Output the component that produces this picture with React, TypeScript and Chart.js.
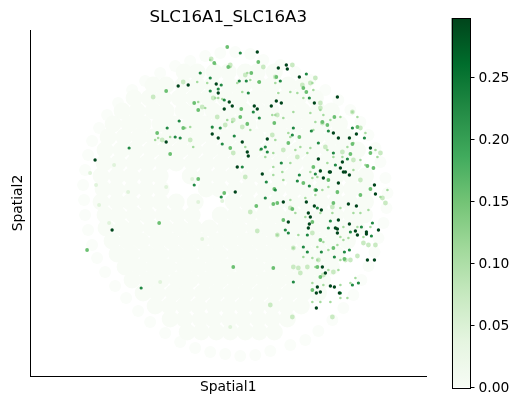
import React, { useEffect, useRef } from "react";
import { Chart, registerables } from "chart.js";

Chart.register(...registerables);

const titleText = "SLC16A1_SLC16A3";
const xLabel = "Spatial1";
const yLabel = "Spatial2";
const colorbarMax = 0.2976;
const colorStops = ["#f7fcf5", "#e5f5e0", "#c7e9c0", "#a1d99b", "#74c476", "#41ab5d", "#238b45", "#006d2c", "#00441b"];

const darkestSpots = [
  [178,86],[188,85],[257,52],[218,93],[216,84],[229,102],[224,109],[232,106],[254,106],[257,109],[276,101],[271,106],[278,68],[212,134],[218,138],[242,142],[247,152],[248,156],[166,142],[237,167],[267,139],
  [286,65],[287,69],[299,77],[281,103],[337,97],[333,133],[338,138],[349,138],[356,134],[370,148],[342,162],[340,168],[345,172],[349,175],[318,159],[323,178],[330,172],[314,103],
  [262,174],[374,185],[375,194],[283,202],[288,222],[306,202],[314,206],[321,210],[308,213],[310,217],[309,224],[308,228],[335,228],[337,229],[337,233],[349,224],[355,231],[366,232],[366,234],[378,230],[367,260],[374,260],[348,204],[356,206],[322,267],[325,273],[317,287],[330,286],[334,287],[316,293],[320,292],[339,293],[316,308],[338,220],[357,235],[338,183],[343,172],[329,172],[320,171],
  [95,160],[112,230],[235,192],
];
const darkSpots = [
  [167,128],[175,137],[180,138],[179,121],[218,89],[221,85],[224,100],[248,93],[246,81],[239,81],[259,118],[253,112],[222,144],[212,127],[220,128],[234,136],[261,149],[267,152],[265,147],[242,167],[210,91],[200,73],[240,53],[210,78],
  [293,128],[309,98],[328,131],[306,74],[280,81],[347,159],[333,153],[318,143],[299,175],[315,174],[352,128],[364,138],[335,165],[292,135],[311,131],[281,163],
  [297,181],[266,182],[265,198],[309,186],[316,190],[307,235],[303,247],[307,252],[321,252],[334,257],[344,252],[349,250],[285,230],[288,233],[330,221],[361,227],[371,236],[358,283],[352,285],[293,282],[340,293],[328,228],[275,190],[372,223],[350,232],[317,208],
  [129,148],[194,185],[221,197],[141,288],
];
const midSpots = [
  [166,91],[194,103],[198,110],[241,109],[247,124],[230,148],[214,63],[228,67],[258,62],[157,133],[170,154],[183,128],[227,47],[251,73],[259,82],[276,77],[240,117],[274,123],
  [303,88],[306,92],[322,122],[357,127],[352,144],[350,154],[299,137],[370,153],[367,166],[373,168],[288,143],[334,117],[313,167],[327,125],
  [273,204],[277,203],[274,189],[256,206],[273,268],[292,209],[333,203],[344,259],[320,240],[370,189],[360,195],[337,192],[312,222],[320,277],[312,290],[303,183],[328,180],[315,190],[317,267],[333,248],[283,220],
  [87,250],[159,223],[198,179],[233,267],[224,193],
];
const speckSpots = [
  [210,60],[215,64],[230,67],[247,73],[250,80],[242,92],[237,83],[258,82],[197,82],[207,83],[215,98],[218,98],[222,99],[198,102],[205,108],[227,120],[232,122],[240,117],[247,123],[250,130],[212,128],[190,127],[185,128],[158,138],[170,137],[155,140],[193,147],[230,148],[245,147],[260,150],[273,153],[265,157],[275,83],[278,93],[272,115],
  [290,92],[297,93],[303,98],[313,90],[312,83],[320,110],[310,113],[323,115],[315,122],[293,112],[283,118],[275,115],[330,120],[340,117],[352,112],[357,117],[347,147],[353,143],[365,133],[375,150],[377,157],[313,130],[288,133],[290,137],[275,140],[295,150],[300,147],[307,153],[310,148],[327,150],[333,157],[342,157],[360,160],[365,165],[353,170],[290,163],[282,172],[273,167],[310,172],[320,170],[327,163],
  [273,175],[283,180],[312,178],[317,177],[328,187],[337,193],[322,190],[315,195],[305,198],[305,217],[320,213],[290,200],[295,213],[332,213],[340,208],[353,213],[368,210],[360,213],[370,227],[357,227],[343,227],[340,237],[348,238],[363,237],[323,242],[317,247],[328,250],[337,245],[343,240],[317,260],[315,267],[340,260],[338,270],[328,270],[355,278],[350,283],[340,285],[323,285],[312,283],[340,298],[347,298],[330,302],[312,302],[320,302],[277,235],[293,248],[298,235],[303,257],[312,258],[380,197],[387,190],
];
const paleSpots = [
  [211,59],[245,75],[230,65],[202,107],[213,98],[233,120],[233,153],[153,97],[183,82],[263,67],[277,115],[242,127],[225,125],[190,140],[162,140],[217,117],
  [320,103],[297,157],[310,83],[322,123],[320,108],[342,152],[275,77],[292,65],[315,78],[352,112],[325,147],[360,128],[380,153],[353,160],[302,85],[272,135],[283,150],
  [332,207],[293,248],[300,273],[293,267],[333,272],[357,256],[368,245],[375,245],[363,243],[257,231],[277,235],[318,260],[298,268],[292,317],[332,317],[360,180],[385,203],[382,198],[312,233],[350,260],[345,260],[307,267],[323,275],[270,305],[245,177],[250,212],[290,208],
];
const farPaleSpots = [
  [114,165],[90,173],[128,192],[198,202],[222,201],[160,282],[109,223],[99,205],[202,239],[230,327],[166,187],[96,185],[192,179],
];

const backgroundRows: [number, number[]][] = [
  [72,[184,197,214,228,245,257,274]],
  [85,[153,166,183,197,212,229,243,259,272,288,303]],
  [98,[134,149,163,179,194,208,225,239,256,269,285,298,315]],
  [111,[122,137,153,166,183,196,213,227,243,258,271,288,302,318,331]],
  [124,[113,129,143,160,173,190,204,219,235,248,265,279,294,309,323,339]],
  [137,[108,124,139,153,169,183,198,212,228,243,256,273,286,303,316,332,346]],
  [150,[105,121,135,151,165,180,194,210,224,239,253,269,283,298,312,328,342,357]],
  [163,[104,118,134,147,163,176,192,206,221,235,251,264,280,294,310,324,339,353]],
  [176,[101,117,131,147,160,190,205,219,233,249,262,278,292,307,322,336,351,365]],
  [189,[103,116,132,146,161,206,219,235,248,264,277,293,306,322,335,351,364]],
  [202,[101,117,130,146,160,176,195,233,247,262,277,291,306,320,336,349,365]],
  [215,[105,118,134,147,163,177,192,220,235,248,264,277,293,306,322,335,351,364]],
  [228,[106,122,135,151,165,180,194,209,225,238,254,268,283,297,312,327,341,356]],
  [241,[112,127,141,157,171,186,200,216,230,245,259,274,288,304,318,333,347]],
  [254,[117,131,147,160,176,190,206,219,235,249,264,278,293,307,322,336]],
  [267,[125,139,154,168,184,198,213,227,243,256,272,286,301,315,331]],
  [280,[132,147,161,177,190,206,220,235,249,264,278,293,307,322]],
  [293,[143,157,173,186,202,216,231,245,260,274,289,303,318]],
  [306,[155,169,184,198,214,228,243,257,272,286,301]],
  [319,[170,184,200,213,229,243,258,272,287]],
  [332,[187,201,216,230,245,259,274]],
];
const edgeSpots = [
  [205,56],[220,53],[235,52],[250,54],[263,60],[190,61],[175,66],[160,73],[280,65],[295,72],[145,81],[132,90],[310,80],[325,90],[118,103],[107,115],[338,100],[350,110],[99,128],[360,122],[92,141],[368,135],[88,155],[375,148],[85,170],[380,162],[83,185],[385,178],[84,200],[387,193],[85,215],[386,208],[88,230],[383,223],[92,245],[378,238],[97,258],[374,252],[105,272],[368,266],[115,286],[361,280],[126,298],[353,295],[138,311],[343,308],[150,322],[332,320],[165,333],[318,331],[180,342],[305,340],[195,348],[290,345],[210,352],[225,354],[240,356],[255,355],[270,351],
];

const toPoints = (rows: number[][]) => rows.map(([x, y]) => ({ x, y }));
const backgroundPoints = backgroundRows.flatMap(([y, xs]) => xs.map((x) => ({ x, y })));

export default function App() {
  const mainRef = useRef<HTMLCanvasElement>(null);
  const barRef = useRef<HTMLCanvasElement>(null);

  useEffect(() => {
    const font = { family: "'DejaVu Sans'", size: 13.89 };
    const main = new Chart(mainRef.current!, {
      type: "scatter",
      data: {
        datasets: [
          { data: toPoints(darkestSpots), backgroundColor: "#00451c", pointRadius: 1.7 },
          { data: toPoints(darkSpots), backgroundColor: "#218944", pointRadius: 1.6 },
          { data: toPoints(midSpots), backgroundColor: "#6cc072", pointRadius: 1.9 },
          { data: toPoints(speckSpots), backgroundColor: "#a5db9f", pointRadius: 1.3 },
          { data: toPoints(paleSpots), backgroundColor: "#c9eac2", pointRadius: 2.4 },
          { data: toPoints(farPaleSpots), backgroundColor: "#e0f3db", pointRadius: 2 },
          { data: backgroundPoints, backgroundColor: "#f8fcf6", pointRadius: 8.5 },
          { data: toPoints(edgeSpots), backgroundColor: "#fafdf9", pointRadius: 6 },
        ],
      },
      options: {
        animation: false,
        responsive: false,
        layout: { padding: { left: 0, top: 30, right: 93.5, bottom: 0 } },
        plugins: {
          legend: { display: false },
          tooltip: { enabled: false },
        },
        elements: { point: { borderWidth: 0 } },
        scales: {
          x: {
            type: "linear", min: 30, max: 426,
            grid: { display: false },
            border: { color: "#000", width: 1 },
            ticks: { display: false },
            afterFit: (s: any) => { s.height = 30; },
            title: { display: true, text: xLabel, color: "#000", font, padding: { top: 2, bottom: 10 } },
          },
          y: {
            type: "linear", min: 30, max: 376, reverse: true,
            grid: { display: false },
            border: { color: "#000", width: 1 },
            ticks: { display: false },
            afterFit: (s: any) => { s.width = 30; },
            title: { display: true, text: yLabel, color: "#000", font, padding: { top: 10, bottom: 0 } },
          },
        },
      },
      plugins: [{
        id: "heading",
        afterDraw(c: any) {
          const g = c.ctx;
          g.save();
          g.fillStyle = "#000";
          g.font = "16.67px 'DejaVu Sans'";
          g.textAlign = "center";
          g.textBaseline = "alphabetic";
          g.fillText(titleText, (c.chartArea.left + c.chartArea.right) / 2, 22);
          g.restore();
        },
      }],
    } as any);

    const bar = new Chart(barRef.current!, {
      type: "bar",
      data: {
        labels: ["v"],
        datasets: [{
          data: [[0, colorbarMax]],
          barPercentage: 1,
          categoryPercentage: 1,
          borderWidth: 0,
          backgroundColor: (ctx: any) => {
            const area = ctx.chart.chartArea;
            if (!area) return colorStops[0];
            const grad = ctx.chart.ctx.createLinearGradient(0, area.bottom, 0, area.top);
            colorStops.forEach((c, i) => grad.addColorStop(i / (colorStops.length - 1), c));
            return grad;
          },
        }],
      },
      options: {
        animation: false,
        responsive: false,
        layout: { padding: { left: 11.5, top: 18, right: 0, bottom: 18.5 } },
        plugins: { legend: { display: false }, tooltip: { enabled: false } },
        scales: {
          x: { display: false },
          y: {
            position: "right", min: 0, max: colorbarMax,
            grid: { drawOnChartArea: false, tickLength: 4, tickColor: "#000", tickWidth: 1 },
            border: { display: false },
            afterFit: (s: any) => { s.width = 49.5; },
            ticks: {
              stepSize: 0.05, includeBounds: false, color: "#000", font, padding: 4, labelOffset: 1,
              callback: (v: any) => Number(v).toFixed(2),
            },
          },
        },
      },
      plugins: [{
        id: "outline",
        afterDatasetsDraw(c: any) {
          const a = c.chartArea;
          const g = c.ctx;
          g.save();
          g.strokeStyle = "#000";
          g.lineWidth = 1;
          g.strokeRect(Math.round(a.left) - 0.5 + 1, Math.round(a.top) + 0.5, Math.round(a.right - a.left) - 1, Math.round(a.bottom - a.top));
          g.restore();
        },
      }],
    } as any);

    return () => { main.destroy(); bar.destroy(); };
  }, []);

  return (
    <div style={{ position: "fixed", left: 0, top: 0, width: 520, height: 406, background: "#fff" }}>
      <canvas ref={mainRef} width={520} height={406} style={{ position: "absolute", left: 0, top: 0 }} />
      <canvas ref={barRef} width={80} height={406} style={{ position: "absolute", left: 440, top: 0 }} />
    </div>
  );
}
